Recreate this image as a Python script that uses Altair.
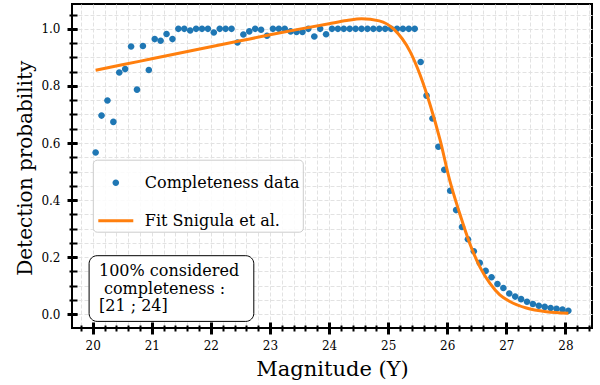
import altair as alt
import pandas as pd

# ---- data ----
mag_bins = [round(20.05 + 0.1 * i, 2) for i in range(81)]
completeness = [
    0.567, 0.696, 0.749, 0.674, 0.847, 0.859, 0.938, 0.787, 0.940, 0.856,
    0.964, 0.958, 0.982, 0.964, 1.000, 1.000, 0.994, 1.000, 1.000, 1.000,
    0.987, 1.000, 1.000, 1.000, 0.952, 0.980, 0.991, 1.000, 0.997, 0.976,
    1.000, 1.000, 1.000, 0.991, 0.989, 0.989, 1.000, 0.973, 1.000, 0.981,
    1.000, 1.000, 1.000, 1.000, 1.000, 1.000, 1.000, 1.000, 1.000, 1.000,
    1.000, 1.000, 1.000, 1.000, 1.000, 0.884, 0.766, 0.686, 0.587, 0.506,
    0.433, 0.365, 0.306, 0.263, 0.221, 0.180, 0.152, 0.130, 0.106, 0.092,
    0.073, 0.062, 0.053, 0.044, 0.036, 0.030, 0.026, 0.022, 0.019, 0.017,
    0.012,
]
fit_mag = [20.05, 20.5, 21.0, 21.5, 22.0, 22.5, 23.0, 23.5, 24.0, 24.3, 24.55,
           24.85, 25.1, 25.37, 25.54, 25.71, 25.88, 26.04, 26.21, 26.38, 26.55,
           26.72, 26.89, 27.06, 27.34, 27.68, 28.05]
fit_val = [0.855, 0.874, 0.895, 0.916, 0.937, 0.958, 0.979, 0.999, 1.018, 1.029,
           1.035, 1.028, 0.998, 0.921, 0.839, 0.734, 0.610, 0.471, 0.354, 0.249,
           0.167, 0.109, 0.068, 0.045, 0.022, 0.009, 0.004]
series_names = ["Completeness data", "Fit Snigula et al."]
series_colors = ["#1f77b4", "#ff7f0e"]
x_major = [20, 21, 22, 23, 24, 25, 26, 27, 28]
x_minor = [round(19.8 + 0.2 * k, 1) for k in range(44)]
y_major = [0.0, 0.2, 0.4, 0.6, 0.8, 1.0]
y_minor = [round(0.05 * k, 2) for k in range(22)]
note_lines = ["100% considered", "completeness :", "[21 ; 24]"]

FONT = "DejaVu Serif"

pts_df = pd.DataFrame({"mag": mag_bins, "p": completeness, "series": series_names[0]})
fit_df = pd.DataFrame({"mag": fit_mag, "p": fit_val})

xscale = alt.Scale(domain=[19.65, 28.45], nice=False, zero=False)
yscale = alt.Scale(domain=[-0.048, 1.087], nice=False, zero=False)

# symbol shapes (unit coordinates, drawn at size 1600 -> 20 px per unit)
circle_path = "M-0.165,0A0.165,0.165 0 1,0 0.165,0A0.165,0.165 0 1,0 -0.165,0Z"
line_path = "M-0.875,-0.075H0.875V0.075H-0.875Z"

legend = alt.Legend(
    title=None, orient="none", legendX=20.8, legendY=155.7,
    fillColor="rgba(255,255,255,0.85)", strokeColor="#cccccc",
    cornerRadius=4, padding=3, labelFont=FONT, labelFontSize=16,
    labelColor="black", rowPadding=10, labelOffset=9, symbolSize=1600,
    symbolOpacity=1, symbolStrokeWidth=0)

points = alt.Chart(pts_df).mark_point(filled=True, size=1600, opacity=1).encode(
    x=alt.X("mag:Q", scale=xscale, axis=alt.Axis(
        values=x_major, format="d", orient="bottom", offset=-6, tickSize=12,
        tickWidth=3, tickColor="black", domain=False, grid=False,
        labelFont=FONT, labelFontSize=12, labelColor="black", labelPadding=6.5,
        title="Magnitude (Y)", titleFont=FONT, titleFontSize=21,
        titleFontWeight="normal", titleColor="black", titleX=260, titleY=53.7,
        titleBaseline="alphabetic")),
    y=alt.Y("p:Q", scale=yscale, axis=alt.Axis(
        values=y_major, format=".1f", orient="left", offset=-5, tickSize=10,
        tickWidth=3, tickColor="black", domain=False, grid=False,
        labelFont=FONT, labelFontSize=12, labelColor="black", labelPadding=7,
        title="Detection probability", titleFont=FONT, titleFontSize=20,
        titleFontWeight="normal", titleColor="black", titleX=-46, titleY=163.7,
        titleBaseline="alphabetic")),
    color=alt.Color("series:N", scale=alt.Scale(domain=series_names, range=series_colors),
                    legend=legend),
    shape=alt.Shape("series:N", scale=alt.Scale(domain=series_names, range=[circle_path, line_path]),
                    legend=legend),
)

line = alt.Chart(fit_df).mark_line(color=series_colors[1], strokeWidth=3, interpolate="monotone").encode(
    x=alt.X("mag:Q", scale=xscale, axis=alt.Axis(
        values=x_minor, orient="bottom", offset=-3, tickSize=6, tickWidth=2,
        tickColor="black", domain=False, labels=False, title=None,
        grid=True, gridColor="#e2e2e2", gridDash=[4, 2], gridWidth=1)),
    y=alt.Y("p:Q", scale=yscale, axis=alt.Axis(
        values=y_minor, orient="left", offset=-5, tickSize=8, tickWidth=2,
        tickColor="black", domain=False, labels=False, title=None,
        grid=True, gridColor="#e2e2e2", gridDash=[4, 2], gridWidth=1)),
)

one = pd.DataFrame({"k": [0]})
box = alt.Chart(one).mark_rect(cornerRadius=8, fill="white", stroke="black", strokeWidth=1).encode(
    x=alt.value(17.1), x2=alt.value(181.8), y=alt.value(251.7), y2=alt.value(317.4))


def note_text(txt, x, y):
    return alt.Chart(one).mark_text(align="left", baseline="alphabetic", font=FONT, fontSize=16,
                                    color="black", text=txt).encode(x=alt.value(x), y=alt.value(y))


note1 = note_text(note_lines[0], 27, 272.4)
note2 = note_text(note_lines[1], 32, 289.8)
note3 = note_text(note_lines[2], 27, 307.2)

chart = alt.layer(points, line, box, note1, note2, note3).resolve_axis(
    x="independent", y="independent").properties(
    width=520, height=324,
    autosize=alt.AutoSizeParams(type="none"),
    padding={"left": 72, "top": 4, "right": 8, "bottom": 57},
    background="white",
).configure_view(stroke="black", strokeWidth=2)

chart.save("out.html", embed_options={"renderer": "svg", "actions": False})
